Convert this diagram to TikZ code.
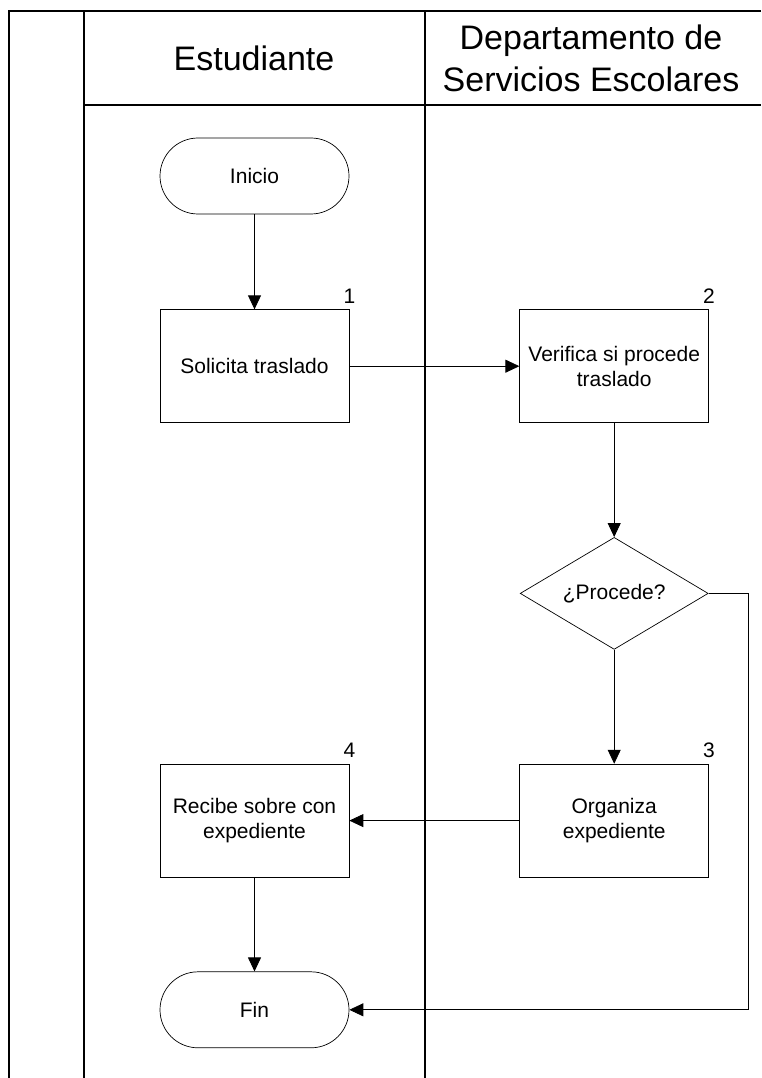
\documentclass[tikz,border=0pt]{standalone}
\usepackage{fontspec}
\setmainfont{Liberation Sans}
\usepackage{tikz}
\usetikzlibrary{shapes.geometric, arrows.meta, positioning}
\tikzstyle{terminal} = [rectangle, rounded corners=38pt, minimum width=189pt, minimum height=76pt, text centered, draw=black, line width=0.7pt]
\tikzstyle{process} = [rectangle, minimum width=189pt, minimum height=113pt, text centered, align=center, draw=black, line width=0.7pt]
\tikzstyle{decision} = [diamond, aspect=1.68, minimum width=188pt, minimum height=112pt, inner sep=0pt, text centered, draw=black, line width=0.7pt]
\tikzstyle{arrow} = [line width=0.8pt, -{Triangle[length=14pt,width=13pt]}]
\tikzstyle{lane} = [line width=1.1pt]
\tikzstyle{stepnum} = [anchor=south, inner sep=0pt, yshift=6pt]

\begin{document}
\begin{tikzpicture}[x=1pt, y=-1pt, font=\fontsize{21}{25}\selectfont]
    \useasboundingbox (0,0) rectangle (761,1078);
    % carriles
    \draw [lane] (761,11) -- (9,11) -- (9,1078);
    \draw [lane] (84,11) -- (84,1078);
    \draw [lane] (425,11) -- (425,1078);
    \draw [lane] (84,105) -- (761,105);
    \node (est) [font=\fontsize{34}{42}\selectfont] at (254,58) {Estudiante};
    \node (dse) [align=center, font=\fontsize{34}{42}\selectfont] at (591,58) {Departamento de\\Servicios Escolares};

    % flujo
    \node (inicio) [terminal] at (254.5,176) {Inicio};
    \node (sol) [process, below=95pt of inicio] {Solicita traslado};
    \node (ver) [process, right=170pt of sol] {Verifica si procede\\traslado};
    \node (dec) [decision, below=114pt of ver] {¿Procede?};
    \node (org) [process, below=114pt of dec] {Organiza\\expediente};
    \node (rec) [process, left=170pt of org] {Recibe sobre con\\expediente};
    \node (fin) [terminal, below=94pt of rec] {Fin};

    \node (n1) [stepnum] at (sol.north east) {1};
    \node (n2) [stepnum] at (ver.north east) {2};
    \node (n3) [stepnum] at (org.north east) {3};
    \node (n4) [stepnum] at (rec.north east) {4};

    \draw [arrow] (inicio) -- (sol);
    \draw [arrow] (sol) -- (ver);
    \draw [arrow] (ver) -- (dec);
    \draw [arrow] (dec) -- (org);
    \draw [arrow] (org) -- (rec);
    \draw [arrow] (rec) -- (fin);
    \draw [arrow] (dec.east) -- ++(40pt,0) |- (fin.east);
\end{tikzpicture}
\end{document}
